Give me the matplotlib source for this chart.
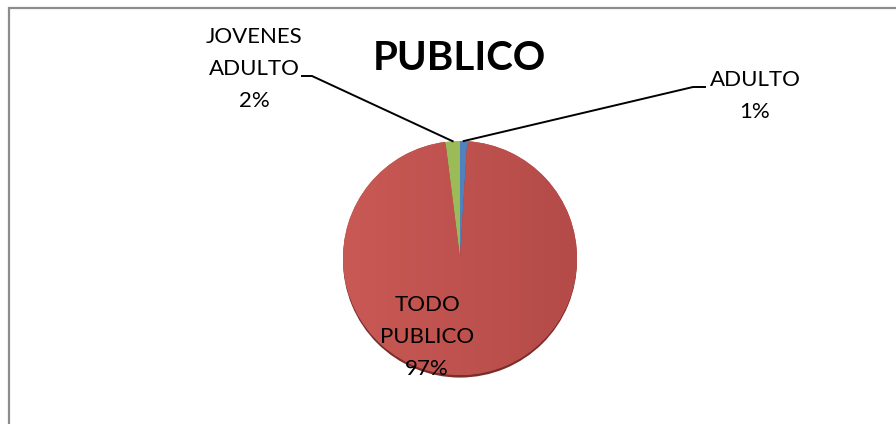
"""Pie chart: PUBLICO distribution."""
import numpy as np
import matplotlib.pyplot as plt
from matplotlib.patches import Rectangle
from matplotlib.lines import Line2D
from matplotlib.colors import LinearSegmentedColormap

plt.rcParams["font.family"] = ["Lato", "DejaVu Sans"]

CATEGORIES = ["ADULTO", "TODO\nPUBLICO", "JOVENES\nADULTO"]
VALUES = [1, 97, 2]
COLORS = ["#4F81BD", "#C0504D", "#9BBB59"]
TITLE = "PUBLICO"

W, H = 896, 424
fig = plt.figure(figsize=(W / 100, H / 100), dpi=100)

# chart frame (cut off at right and bottom)
fig.patches.append(Rectangle((9 / W, -0.1), 1.2, 1 - 8 / H + 0.1, transform=fig.transFigure,
                             fill=False, edgecolor="#8c8c8c", linewidth=1.6))

cx, cy, r = 460, 258, 117
ax = fig.add_axes([(cx - r) / W, 1 - (cy + r) / H, 2 * r / W, 2 * r / H])

# slight bottom rim shadow
ax.pie([1], colors=["#7a2e2c"], radius=1.0, center=(0, -0.022), startangle=90,
       wedgeprops=dict(linewidth=0))
wedges, _ = ax.pie(VALUES, colors=COLORS, startangle=90, counterclock=False,
                   wedgeprops=dict(linewidth=0))

# soft left-to-right shading on the big slice
grad = LinearSegmentedColormap.from_list("red_shade", ["#C95955", "#B44B48"])
img = ax.imshow(np.linspace(0, 1, 256).reshape(1, -1), cmap=grad, extent=(-1, 1, -1, 1),
                aspect="auto", zorder=wedges[1].get_zorder() + 0.1)
img.set_clip_path(wedges[1])

ax.set_xlim(-1, 1)
ax.set_ylim(-1, 1)
ax.set_aspect("equal")
ax.axis("off")

total = sum(VALUES)
pcts = [f"{round(v / total * 100)}%" for v in VALUES]


def edge_point(wedge):
    ang = np.deg2rad((wedge.theta1 + wedge.theta2) / 2)
    p = ax.transData.transform((np.cos(ang), np.sin(ang)))
    return p[0], p[1]


txt_kw = dict(fontsize=16, color="black", ha="center", va="center", linespacing=1.75)

# ADULTO label with leader line
x0, y0 = edge_point(wedges[0])
fig.add_artist(Line2D([x0, 693, 705], [y0, H - 87, H - 87], transform=None,
                      color="black", linewidth=1.4))
fig.text(755 / W, 1 - 96 / H, f"{CATEGORIES[0]}\n{pcts[0]}", **txt_kw)

# JOVENES ADULTO label with leader line
x2, y2 = edge_point(wedges[2])
fig.add_artist(Line2D([x2, 312, 302], [y2, H - 76, H - 76], transform=None,
                      color="black", linewidth=1.4))
fig.text(254 / W, 1 - 69 / H, f"{CATEGORIES[2]}\n{pcts[2]}", **txt_kw)

# TODO PUBLICO label inside slice
fig.text(427 / W, 1 - 337 / H, f"{CATEGORIES[1]}\n{pcts[1]}", **txt_kw)

fig.text(459 / W, 1 - 59 / H, TITLE, fontsize=29, fontweight="bold",
         ha="center", va="center")

fig.savefig("out.png", dpi=100, facecolor="white")
